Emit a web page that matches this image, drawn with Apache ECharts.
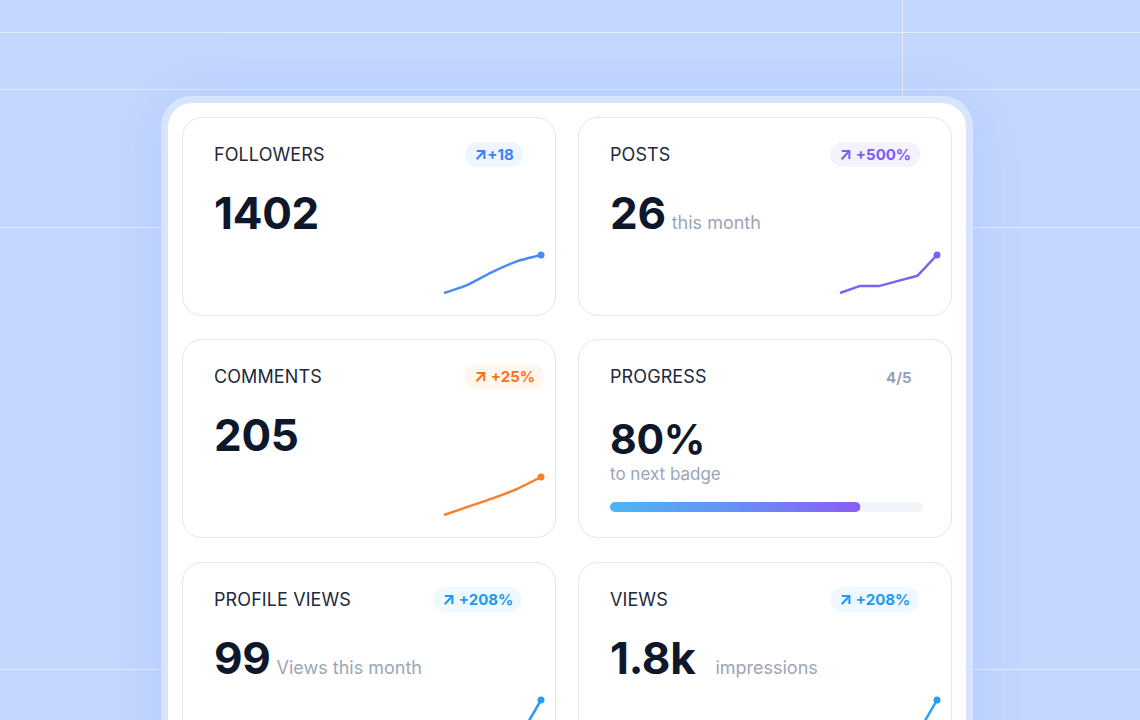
<!DOCTYPE html>
<html>
<head>
<meta charset="utf-8">
<title>Stats cards</title>
<script src="https://cdn.jsdelivr.net/npm/echarts@6/dist/echarts.min.js"></script>
<style>
  html, body { margin: 0; padding: 0; }
  body {
    width: 1140px; height: 720px; overflow: hidden; position: relative;
    background: #c4d7fe;
    font-family: Inter, "Noto Sans", sans-serif;
  }
  .hline { position: absolute; left: 0; width: 1140px; height: 1px; background: rgba(255,255,255,0.55); }
  .vline { position: absolute; width: 1px; background: rgba(255,255,255,0.55); }
  .ring {
    position: absolute; left: 161px; top: 96px; width: 812px; height: 700px;
    background: #d7e4fe; border-radius: 30px;
    box-shadow: 0 0 60px rgba(110, 150, 250, 0.2);
  }
  .panel {
    position: absolute; left: 168px; top: 103px; width: 798px; height: 700px;
    background: #fff; border-radius: 24px;
  }
  .card {
    position: absolute; width: 372px; height: 197px;
    border: 1.5px solid #e4e6ea; border-radius: 20px; background: #fff;
  }
  .label {
    position: absolute; left: 31px; top: 26px; font-size: 18px; line-height: 22px;
    color: #1e293b; letter-spacing: 0.1px;
  }
  .value {
    position: absolute; left: 31px; top: 73px; line-height: 44px; white-space: nowrap;
  }
  .value b { font-size: 44px; font-weight: 700; color: #0f172a; letter-spacing: -0.3px; }
  .value span { font-size: 18px; color: #9aa5b8; margin-left: 6px; }
  .badge {
    position: absolute; top: 24px; height: 25px; line-height: 25px; padding: 0 9px;
    border-radius: 13px; font-size: 15px; font-weight: 700; white-space: nowrap;
  }
  .badge i { font-style: normal; font-size: 17px; }
  .spark { position: absolute; left: 256px; top: 131px; width: 108px; height: 50px; }
</style>
</head>
<body>
<div class="hline" style="top:32px"></div>
<div class="hline" style="top:89px"></div>
<div class="hline" style="top:227px"></div>
<div class="hline" style="top:669px"></div>
<div class="vline" style="left:902px;top:0;height:96px"></div>

<div class="ring"></div>
<div class="panel"></div>

<div class="card" style="left:182px;top:117px">
  <div class="label">FOLLOWERS</div>
  <div class="badge" style="left:282px;color:#3b82f6;background:#eef5ff"><i>↗</i>+18</div>
  <div class="value"><b>1402</b></div>
  <div class="spark" id="followersChart"></div>
</div>

<div class="card" style="left:578px;top:117px">
  <div class="label">POSTS</div>
  <div class="badge" style="left:251px;color:#7c5cf2;background:#f3f2fe"><i>↗</i> +500%</div>
  <div class="value"><b>26</b><span>this month</span></div>
  <div class="spark" id="postsChart"></div>
</div>

<div class="card" style="left:182px;top:339px">
  <div class="label">COMMENTS</div>
  <div class="badge" style="left:282px;color:#f97316;background:#fff6ee"><i>↗</i> +25%</div>
  <div class="value"><b>205</b></div>
  <div class="spark" id="commentsChart"></div>
</div>

<div class="card" style="left:578px;top:339px">
  <div class="label">PROGRESS</div>
  <div style="position:absolute;left:307px;top:27px;line-height:22px;font-size:15px;font-weight:700;color:#94a3b8">4/5</div>
  <div class="value" style="top:77px"><b style="font-size:41px">80%</b></div>
  <div style="position:absolute;left:31px;top:123px;font-size:17px;line-height:22px;color:#9aa5b8">to next badge</div>
  <div id="progressChart" style="position:absolute;left:26px;top:157px;width:323px;height:20px"></div>
</div>

<div class="card" style="left:182px;top:562px">
  <div class="label">PROFILE VIEWS</div>
  <div class="badge" style="left:250px;color:#1e9bf0;background:#eff8ff"><i>↗</i> +208%</div>
  <div class="value"><b>99</b><span>Views this month</span></div>
  <div class="spark" id="profileChart"></div>
</div>

<div class="card" style="left:578px;top:562px">
  <div class="label">VIEWS</div>
  <div class="badge" style="left:251px;color:#1e9bf0;background:#eff8ff"><i>↗</i> +208%</div>
  <div class="value"><b>1.8k</b><span style="margin-left:20px">impressions</span></div>
  <div class="spark" id="viewsChart"></div>
</div>

<script>
// sparkline data (oldest -> newest)
const followersDays = ['D1', 'D2', 'D3', 'D4', 'D5'];
const followersData = [1384, 1388, 1394, 1399, 1402];

const postsDays = ['W1', 'W2', 'W3', 'W4', 'W5', 'W6'];
const postsData = [4, 8, 8, 11, 14, 26];

const commentsDays = ['D1', 'D2', 'D3', 'D4', 'D5'];
const commentsData = [164, 173, 182, 192, 205];

const profileDays = ['W1', 'W2', 'W3', 'W4', 'W5', 'W6'];
const profileData = [30, 31, 33, 34, 38, 99];

const viewsDays = ['W1', 'W2', 'W3', 'W4', 'W5', 'W6'];
const viewsData = [560, 590, 610, 640, 700, 1800];

// progress: 4 of 5 badges
const progressLabel = ['badge'];
const progressData = [80];
const progressMax = 100;

function sparkline(id, days, data, color, smooth) {
    const dom = document.getElementById(id);
    if (!dom) return;
    const chart = echarts.init(dom);
    const last = data.length - 1;
    chart.setOption({
        animation: false,
        grid: { left: 5, right: 6, top: 6, bottom: 6 },
        xAxis: { type: 'category', data: days, boundaryGap: false, show: false },
        yAxis: { type: 'value', min: 'dataMin', max: 'dataMax', show: false },
        series: [{
            type: 'line',
            data: data.map((v, i) => ({
                value: v,
                symbol: i === last ? 'circle' : 'none',
                symbolSize: 7
            })),
            smooth: smooth,
            lineStyle: { color: color, width: 2.5 },
            itemStyle: { color: color }
        }]
    });
}

if (typeof echarts !== 'undefined') {
    sparkline('followersChart', followersDays, followersData, '#4a8af4', 0.2);
    sparkline('postsChart', postsDays, postsData, '#7c62f0', false);
    sparkline('commentsChart', commentsDays, commentsData, '#f97f2a', 0.2);
    sparkline('profileChart', profileDays, profileData, '#2a9df4', false);
    sparkline('viewsChart', viewsDays, viewsData, '#2a9df4', false);

    // === PROGRESS BAR ===
    const progDom = document.getElementById('progressChart');
    if (progDom) {
        const progChart = echarts.init(progDom);
        progChart.setOption({
            animation: false,
            grid: { left: 5, right: 5, top: 5, bottom: 5 },
            xAxis: { type: 'value', min: 0, max: progressMax, show: false },
            yAxis: { type: 'category', data: progressLabel, show: false },
            series: [{
                type: 'bar',
                data: progressData,
                barWidth: 10,
                showBackground: true,
                backgroundStyle: { color: '#f1f4f8', borderRadius: 5 },
                itemStyle: {
                    borderRadius: 5,
                    color: new echarts.graphic.LinearGradient(0, 0, 1, 0, [
                        { offset: 0, color: '#4cb6f6' },
                        { offset: 0.55, color: '#6a8cf6' },
                        { offset: 1, color: '#8b5cf6' }
                    ])
                }
            }]
        });
    }
} else {
    console.error('ECharts library not loaded.');
}
</script>
</body>
</html>
